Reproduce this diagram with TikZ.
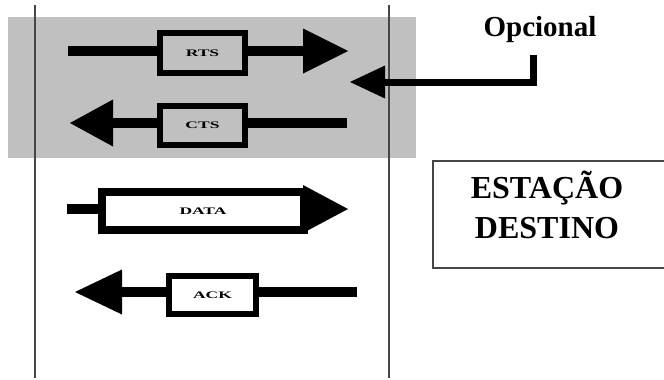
\documentclass[tikz,border=0pt]{standalone}
\usepackage{fontspec}
\setmainfont{Liberation Serif}
\usetikzlibrary{arrows.meta}
\definecolor{shadeGray}{RGB}{192,192,192}
\definecolor{lineGray}{RGB}{70,70,70}
\newcommand{\framelabel}[1]{\scalebox{1.75}[1]{\fontsize{10}{10}\selectfont\bfseries #1}}

\tikzset{
  lifeline/.style={draw=lineGray, line width=1.8pt},
  frameshaft/.style={line width=10pt},
  framebox/.style={draw, line width=6pt, minimum height=40pt, inner sep=0pt, outer sep=0pt},
}

\begin{document}
\begin{tikzpicture}[x=1pt,y=1pt,yscale=-1]
  \useasboundingbox (0,0) rectangle (664,380);

  % optional exchange
  \fill [shadeGray] (8,17) rectangle (416,158);

  \draw [lifeline] (35,5) -- (35,378);
  \draw [lifeline] (389,5) -- (389,378);

  % RTS
  \coordinate (rtsTail) at (68,51);
  \coordinate (rtsTip) at (348,51);
  \draw [frameshaft, -{Triangle[length=45pt,width=45pt,line width=0pt]}] (rtsTail) -- (rtsTip);
  \node [framebox, fill=shadeGray, minimum width=85pt] (rts) at (202.5,53) {\framelabel{RTS}};

  % CTS
  \coordinate (ctsTail) at (347,123);
  \coordinate (ctsTip) at (70,123);
  \draw [frameshaft, -{Triangle[length=43pt,width=47pt,line width=0pt]}] (ctsTail) -- (ctsTip);
  \node [framebox, fill=shadeGray, minimum width=85pt, minimum height=39pt] (cts) at (202.5,125.5) {\framelabel{CTS}};

  % DATA
  \coordinate (dataTail) at (67,209);
  \coordinate (dataTip) at (348,209);
  \draw [frameshaft, -{Triangle[length=45pt,width=48pt,line width=0pt]}] (dataTail) -- (dataTip);
  \node [framebox, fill=white, line width=8pt, minimum width=202pt, minimum height=38pt] (data) at (203,211) {\framelabel{DATA}};

  % ACK
  \coordinate (ackTail) at (357,292);
  \coordinate (ackTip) at (75,292);
  \draw [frameshaft, -{Triangle[length=47pt,width=45pt,line width=0pt]}] (ackTail) -- (ackTip);
  \node [framebox, fill=white, minimum width=87pt, minimum height=38pt] (ack) at (212.5,295) {\framelabel{ACK}};

  % note
  \node [font=\fontsize{29}{29}\selectfont\bfseries, inner sep=0pt] (opc) at (540,30) {Opcional};
  \coordinate (optStart) at (533,55);
  \coordinate (optTip) at (350,82);
  \draw [line width=7pt, -{Triangle[length=35pt,width=33pt,line width=0pt]}] (optStart) |- (optTip);

  \node [draw=lineGray, line width=1.6pt, minimum width=260pt, minimum height=107pt, anchor=north west, inner sep=0pt] (destBox) at (432,160) {};
  \node [align=center, font=\fontsize{32}{40}\selectfont\bfseries] (destLabel) at (547,205) {ESTAÇÃO\\DESTINO};

\end{tikzpicture}
\end{document}
